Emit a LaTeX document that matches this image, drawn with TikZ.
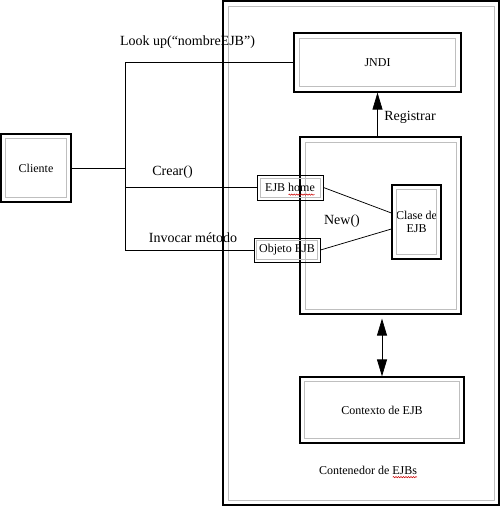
\documentclass[tikz,border=0pt]{standalone}
\usepackage{fontspec}
\setmainfont{Liberation Serif}
\usetikzlibrary{arrows.meta,decorations.pathmorphing}

% gray inner frame of a box
\newcommand{\marco}[2]{\draw[gris] ([xshift=#2,yshift=-#2]#1.north west) rectangle ([xshift=-#2,yshift=#2]#1.south east);}

\begin{document}
\begin{tikzpicture}[x=1pt,y=-1pt,
  caja/.style={draw,line width=1.2pt,inner sep=0pt,font=\fontsize{12}{13.5}\selectfont},
  cajita/.style={caja,line width=1pt},
  gris/.style={draw=black!25,line width=0.7pt},
  texto/.style={inner sep=0pt,font=\fontsize{14}{16}\selectfont},
  linea/.style={line width=0.75pt},
  punta/.tip={Triangle[width=10pt,length=17pt]},
  ondas/.style={draw=red!80!black,line width=0.5pt,decorate,
    decoration={snake,amplitude=0.6pt,segment length=2.5pt}}]

\useasboundingbox (0,0) rectangle (501,506);

% boxes
\node[caja,minimum width=276pt,minimum height=504pt] (contenedor) at (361,253) {};
\marco{contenedor}{5.5pt}
\node[caja,minimum width=167pt,minimum height=59pt] (jndi) at (377.5,62.5) {JNDI};
\marco{jndi}{6pt}
\node[caja,minimum width=161pt,minimum height=177pt] (nucleo) at (380.5,225.5) {};
\marco{nucleo}{5.5pt}
\node[caja,minimum width=49pt,minimum height=74pt,align=center] (clase) at (416.5,222) {Clase de\\EJB};
\marco{clase}{5pt}
\node[cajita,minimum width=66pt,minimum height=25pt] (home) at (290,187.5) {EJB home};
\marco{home}{3.5pt}
\node[cajita,minimum width=66pt,minimum height=24pt] (objeto) at (287,250) {Objeto EJB};
\marco{objeto}{3pt}
\node[caja,minimum width=164pt,minimum height=66pt] (contexto) at (382,410) {Contexto de EJB};
\marco{contexto}{5pt}
\node[caja,minimum width=70pt,minimum height=68pt] (cliente) at (36,168) {Cliente};
\marco{cliente}{5pt}

\node[inner sep=0pt,font=\fontsize{12}{13.5}\selectfont] (nombre) at (368,470) {Contenedor de EJBs};

% connectors
\coordinate (arriba) at (125,62.5);
\coordinate (abajo) at (125,250);
\draw[linea] (cliente.east) -- (cliente.east -| arriba);
\draw[linea] (jndi.west) -- (arriba) -- (abajo) -- (objeto.west);
\draw[linea] (home.west -| arriba) -- (home.west);
\draw[linea] (home.east) -- ([yshift=9pt]clase.west);
\draw[linea] (objeto.east) -- ([yshift=-7pt]clase.west);
\draw[linea,-punta] (jndi.south |- nucleo.north) -- (jndi.south);
\draw[linea,punta-punta,shorten <=4pt] (nucleo.south -| contexto.north) -- (contexto.north);

% labels
\node[texto] (lookup) at (187.5,42) {Look up(“nombreEJB”)};
\node[texto] (crear) at (172.5,172) {Crear()};
\node[texto] (invocar) at (193,238) {Invocar método};
\node[texto] (registrar) at (410,117) {Registrar};
\node[texto] (new) at (342,221) {New()};

% spell check marks
\draw[ondas] ([xshift=-35pt,yshift=-3pt]home.base east) -- ([xshift=-9pt,yshift=-3pt]home.base east);
\draw[ondas] ([xshift=-24.5pt,yshift=-3pt]nombre.base east) -- ([yshift=-3pt]nombre.base east);
\end{tikzpicture}
\end{document}
